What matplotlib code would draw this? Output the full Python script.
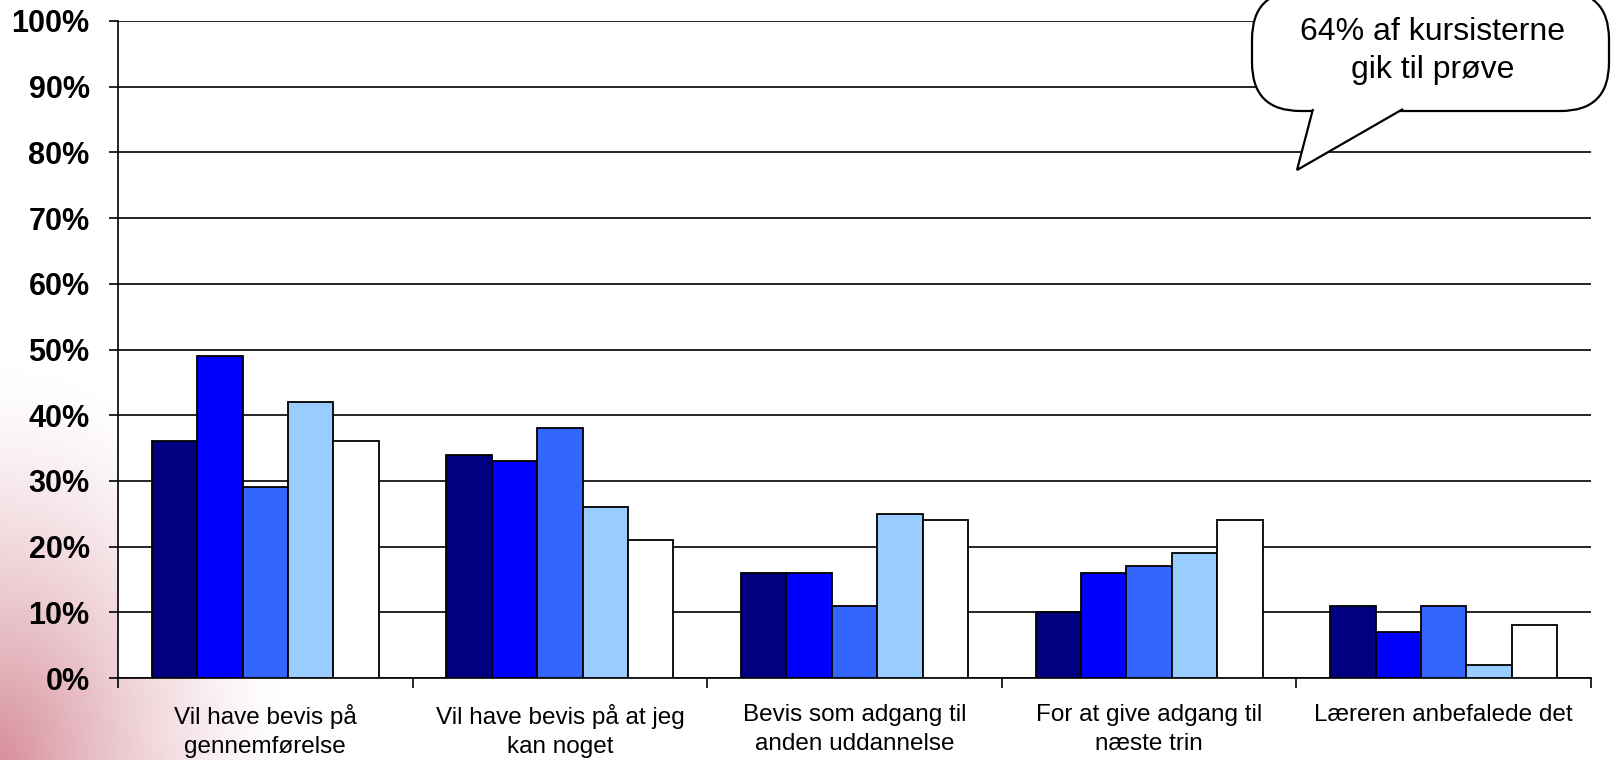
import numpy as np
import matplotlib
matplotlib.use("Agg")
import matplotlib.pyplot as plt
from matplotlib.patches import FancyBboxPatch, Polygon
from matplotlib.ticker import FixedLocator, FuncFormatter

plt.rcParams['font.family'] = ['Liberation Sans', 'DejaVu Sans']

# data
categories = ["Vil have bevis på\ngennemførelse",
              "Vil have bevis på at jeg\nkan noget",
              "Bevis som adgang til\nanden uddannelse",
              "For at give adgang til\nnæste trin",
              "Læreren anbefalede det"]
serie_1 = [36, 34, 16, 10, 11]
serie_2 = [49, 33, 16, 16, 7]
serie_3 = [29, 38, 11, 17, 11]
serie_4 = [42, 26, 25, 19, 2]
serie_5 = [36, 21, 24, 24, 8]
series = [serie_1, serie_2, serie_3, serie_4, serie_5]
colors = ['#000080', '#0000FF', '#3366FF', '#99CCFF', '#FFFFFF']
callout_text = "64% af kursisterne\ngik til prøve"

W, H = 1612, 760
fig = plt.figure(figsize=(W / 100, H / 100), dpi=100)

# pink glow in the lower left corner
bg = fig.add_axes([0, 0, 1, 1], zorder=-5)
yy, xx = np.mgrid[0:H, 0:W]
r = np.sqrt((xx / 290.0) ** 2 + ((H - yy) / 400.0) ** 2)
a = np.clip(1 - r, 0, 1) ** 1.4
img = np.ones((H, W, 4))
img[..., 0] = 0.84
img[..., 1] = 0.56
img[..., 2] = 0.61
img[..., 3] = a
bg.imshow(img, extent=[0, 1, 0, 1], aspect='auto')
bg.axis('off')

ax = fig.add_axes([118 / W, (H - 678) / H, (1591 - 118) / W, (678 - 21) / H])
ax.set_facecolor('white')

x = np.arange(len(categories))
bw = 0.154
for i, vals in enumerate(series):
    ax.bar(x + (i - 2) * bw, vals, width=bw, color=colors[i],
           edgecolor='black', linewidth=1.3, zorder=3)

ax.set_xlim(-0.5, len(categories) - 0.5)
ax.set_ylim(0, 100)
ax.set_yticks(np.arange(0, 101, 10))
ax.yaxis.set_major_formatter(FuncFormatter(lambda v, p: f"{int(v)}%"))
ax.grid(axis='y', color='black', linewidth=1.2, zorder=0)
ax.set_axisbelow(True)

ax.xaxis.set_major_locator(FixedLocator(np.arange(-0.5, len(categories), 1)))
ax.xaxis.set_minor_locator(FixedLocator(x))
ax.set_xticklabels([])
ax.set_xticklabels(categories, minor=True)
ax.tick_params(axis='x', which='major', direction='out', length=7, width=1.2)
ax.tick_params(axis='x', which='minor', length=0, pad=19, labelsize=17.5)
ax.tick_params(axis='y', direction='out', length=6.5, width=1.2, pad=14, labelsize=22)
for t in ax.get_yticklabels():
    t.set_fontweight('bold')
for t in ax.get_xticklabels(minor=True):
    t.set_linespacing(1.4)

for s in ['top', 'right']:
    ax.spines[s].set_visible(False)
for s in ['left', 'bottom']:
    ax.spines[s].set_linewidth(1.2)

# speech bubble
box = FancyBboxPatch((1252 / W, (H - 111) / H), (1609 - 1252) / W, 120 / H,
                     boxstyle="round,pad=0,rounding_size=0.03",
                     transform=fig.transFigure, facecolor='white',
                     edgecolor='black', linewidth=1.6, zorder=10,
                     mutation_aspect=W / H)
fig.add_artist(box)
tail = [(1313 / W, (H - 109) / H), (1297 / W, (H - 170) / H), (1403 / W, (H - 109) / H)]
fig.add_artist(Polygon(tail, closed=False, transform=fig.transFigure, facecolor='white',
                       edgecolor='black', linewidth=1.6, zorder=11))
fig.add_artist(Polygon([(1315 / W, (H - 108) / H), (1401 / W, (H - 108) / H),
                        (1360 / W, (H - 127) / H)], closed=True, transform=fig.transFigure,
                       facecolor='white', edgecolor='none', zorder=12))
fig.text(1433 / W, (H - 51) / H, callout_text, ha='center', va='center',
         fontsize=23, linespacing=1.35, zorder=13)

fig.savefig("out.png", dpi=100)
